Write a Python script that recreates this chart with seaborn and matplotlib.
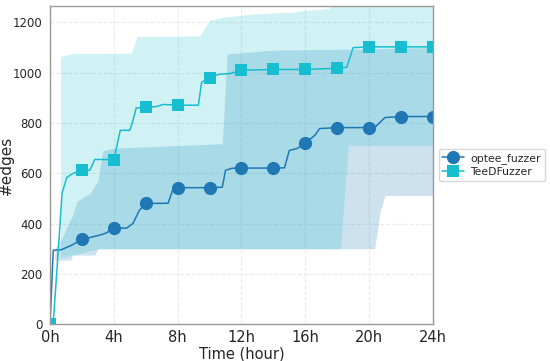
import matplotlib
matplotlib.use("Agg")
import matplotlib.pyplot as plt
import seaborn as sns

# mean curves (time in hours, #edges)
optee_t = [0, 0.2, 0.7, 1.35, 2, 3.1, 3.5, 4, 4.8, 5.2, 5.6, 6, 7.4, 7.7, 8, 10, 10.8, 11.0,
           11.4, 12, 14, 14.7, 15.0, 15.5, 16, 16.6, 16.9, 18, 20, 20.4, 21, 22, 24]
optee_v = [0, 294, 296, 314, 337, 354, 362, 382, 382, 401, 453, 480, 481, 535, 543, 543, 545, 612,
           620, 621, 621, 622, 691, 699, 720, 751, 778, 782, 782, 785, 822, 826, 826]

teed_t = [0, 0.2, 0.6, 0.75, 1.05, 1.45, 2, 2.5, 2.8, 3.75, 4, 4.4, 5, 5.2, 5.4, 6, 6.7, 7.1, 8,
          9.3, 9.5, 10, 10.6, 11.3, 12, 14, 16, 18, 18.6, 19.0, 20, 22, 24]
teed_v = [0, 4, 373, 520, 584, 600, 612, 612, 655, 655, 652, 771, 771, 810, 860, 862, 866, 874, 871,
          871, 962, 981, 994, 997, 1010, 1013, 1013, 1018, 1022, 1100, 1103, 1103, 1103]

# min/max bands
optee_band_t = [0.3, 0.8, 1.3, 1.4, 1.7, 2.5, 2.8, 3.0, 3.3, 4, 10.8, 11.1, 14, 20.35, 20.7, 21.0, 24]
optee_lo = [255, 255, 255, 275, 275, 275, 275, 300, 300, 300, 300, 300, 300, 300, 450, 512, 512]
optee_hi = [300, 350, 420, 430, 490, 520, 550, 570, 690, 700, 718, 1075, 1090, 1095, 1096, 1097, 1100]

teed_band_t = [0.65, 1.45, 3.0, 5.1, 5.45, 9.4, 10.0, 11, 13, 15, 16, 17.5, 17.7, 18.2, 18.7, 24]
teed_lo = [265, 275, 300, 300, 300, 300, 300, 300, 300, 300, 300, 300, 300, 300, 711, 711]
teed_hi = [1065, 1077, 1077, 1078, 1144, 1147, 1210, 1222, 1235, 1240, 1248, 1256, 1300, 1300, 1300, 1300]

x_ticks = [0, 4, 8, 12, 16, 20, 24]
x_labels = ["0h", "4h", "8h", "12h", "16h", "20h", "24h"]

blue = "#1f77b4"
cyan = "#17becf"

sns.set_style("whitegrid", {"grid.linestyle": "--", "grid.color": "#ebebeb"})
plt.rcParams["font.family"] = ["DejaVu Sans"]

fig = plt.figure(figsize=(5.5, 3.61), dpi=100)
ax = fig.add_axes([0.091, 0.102, 0.696, 0.881])

ax.fill_between(optee_band_t, optee_lo, optee_hi, color=blue, alpha=0.22, linewidth=0)
ax.fill_between(teed_band_t, teed_lo, teed_hi, color=cyan, alpha=0.2, linewidth=0)

optee_marks = [i for i, t in enumerate(optee_t) if t % 2 == 0 and t > 0]
teed_marks = [i for i, t in enumerate(teed_t) if t % 2 == 0]

sns.lineplot(x=optee_t, y=optee_v, ax=ax, color=blue, linewidth=1.1, marker="o",
             markersize=9.5, markeredgewidth=0, markevery=optee_marks, label="optee_fuzzer",
             sort=False)
sns.lineplot(x=teed_t, y=teed_v, ax=ax, color=cyan, linewidth=1.1, marker="s",
             markersize=8.5, markeredgewidth=0, markevery=teed_marks, label="TeeDFuzzer",
             sort=False)

ax.set_xlim(0, 24)
ax.set_ylim(0, 1265)
ax.set_xticks(x_ticks)
ax.set_xticklabels(x_labels, fontsize=10.5)
ax.set_yticks([0, 200, 400, 600, 800, 1000, 1200])
ax.tick_params(axis="y", labelsize=8.5, pad=2)
ax.tick_params(axis="x", pad=1)
ax.set_xlabel("Time (hour)", fontsize=10.5, labelpad=1)
ax.set_ylabel("#edges", fontsize=11)
ax.yaxis.set_label_coords(-0.095, 0.5)

for side in ax.spines.values():
    side.set_color("#999999")
    side.set_linewidth(1.0)

ax.legend(loc="center left", bbox_to_anchor=(1.015, 0.5), fontsize=7.8, frameon=True,
          handlelength=2.0, handletextpad=0.6, borderpad=0.35, labelspacing=0.3,
          borderaxespad=0.0)

fig.savefig("out.png", dpi=100)
